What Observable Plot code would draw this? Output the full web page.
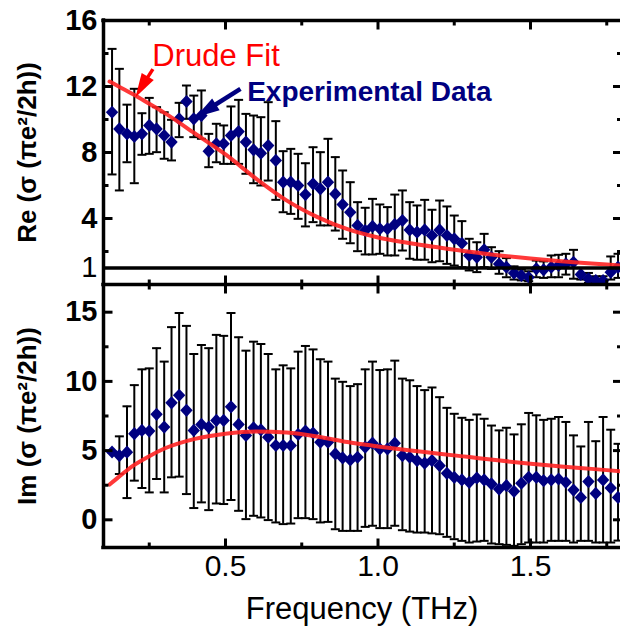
<!DOCTYPE html>
<html><head><meta charset="utf-8">
<script src="https://cdn.jsdelivr.net/npm/d3@7"></script>
<script src="https://cdn.jsdelivr.net/npm/@observablehq/plot@0.6"></script>
<style>
html,body{margin:0;padding:0;background:#fff;}
#chart{width:620px;height:639px;overflow:hidden;}
#chart svg{display:block;}
</style></head><body><div id="chart"></div>
<script>
// ---- data ----
const freq = [0.128,0.152,0.177,0.201,0.226,0.250,0.274,0.299,0.323,0.348,0.372,0.396,0.421,0.445,0.470,0.494,0.518,0.543,0.567,0.592,0.616,0.640,0.665,0.689,0.714,0.738,0.762,0.787,0.811,0.836,0.860,0.884,0.909,0.933,0.958,0.982,1.006,1.031,1.055,1.080,1.104,1.128,1.153,1.177,1.202,1.226,1.250,1.275,1.299,1.324,1.348,1.372,1.397,1.421,1.446,1.470,1.494,1.519,1.543,1.568,1.592,1.616,1.641,1.665,1.690,1.714,1.738,1.763,1.787];
const reValue = [10.44,9.43,9.13,8.97,9.13,9.64,9.43,9.03,8.63,10.04,
11.09,10.04,10.24,8.08,8.53,8.53,9.03,9.27,8.63,8.16,
7.96,8.42,7.52,6.2,6.2,6.0,5.45,6.1,5.8,6.2,
5.49,4.85,4.38,3.58,3.27,3.52,3.38,3.38,3.64,3.88,
3.31,3.17,3.31,2.97,3.31,2.97,2.77,2.5,1.76,1.65,
2.1,1.65,1.25,1.05,0.69,0.55,0.44,0.95,0.89,1.05,
1.15,1.25,1.35,0.61,0.35,0.24,0.24,0.75,1.05];
const reLow = [6.67,5.70,7.41,6.14,7.86,7.92,8.02,7.62,7.52,8.93,
10.04,8.93,8.83,7.11,7.41,7.31,7.31,7.31,6.71,6.14,
6.0,6.3,5.13,4.38,4.28,3.98,3.52,3.78,3.58,3.58,
3.27,2.77,2.5,2.02,1.82,1.82,1.86,1.76,1.76,2.06,
1.56,1.5,1.5,1.35,1.41,1.25,1.15,1.05,0.85,0.75,
1.05,0.95,0.65,0.44,0.3,0.25,0.2,0.44,0.4,0.44,
0.44,0.6,0.35,0.3,0.1,0.05,0.05,0.3,0.4];
const reHigh = [14.28,13.07,10.9,11.86,10.38,11.31,10.75,10.44,9.98,11.01,
12.06,11.45,11.76,9.13,9.74,9.64,10.79,11.19,10.34,10.24,
10.14,11.05,9.9,8.08,8.22,7.92,7.35,8.32,8.02,8.83,
7.72,6.91,6.2,4.99,4.65,5.19,4.85,4.69,5.45,5.7,
4.99,4.79,5.13,4.53,5.09,4.73,4.18,3.84,2.77,2.56,
3.07,2.26,2.02,1.6,1.1,0.9,0.8,1.45,1.4,1.76,
1.8,1.86,2.1,1.0,0.7,0.5,0.5,1.7,1.86];
const imValue = [4.9,4.64,4.89,6.22,6.46,6.41,7.62,6.7,8.45,9.0,
7.91,6.46,6.89,6.7,7.18,7.18,8.16,6.89,6.1,6.65,
6.5,5.97,5.37,5.37,5.37,6.17,6.41,6.27,5.61,5.61,
4.76,4.47,4.33,4.52,5.25,5.54,5.12,5.12,5.54,4.64,
4.52,4.28,4.09,4.28,3.91,3.36,3.07,2.88,2.71,3.02,
2.88,2.59,2.22,2.47,2.06,2.64,3.07,3.07,2.83,2.88,
2.95,2.71,2.15,1.62,2.76,1.91,2.88,2.3,1.62];
const imLow = [4.85,3.31,1.57,2.83,2.3,1.98,2.95,1.98,3.07,3.12,
1.86,0.85,1.26,0.7,1.18,1.14,1.43,0.65,0.05,0.29,
0.17,-0.02,-0.19,-0.31,-0.27,0.12,0.12,0.05,-0.19,-0.15,
-0.68,-0.8,-0.8,-0.8,-0.51,-0.43,-0.6,-0.6,-0.43,-0.75,
-0.85,-0.92,-0.92,-0.98,-1.04,-1.23,-1.4,-1.52,-1.64,-1.57,
-1.52,-1.71,-1.76,-1.81,-1.88,-1.76,-1.64,-1.64,-1.64,-1.52,
-1.52,-1.52,-1.64,-1.52,-1.52,-1.64,-1.64,-1.64,-1.5];
const imHigh = [4.95,6.03,8.2,9.73,10.87,10.94,12.4,11.43,13.92,14.94,
14.01,11.98,12.63,12.4,13.36,13.29,14.94,13.19,12.22,12.87,
12.7,11.98,10.87,11.16,10.94,12.15,12.56,12.31,11.6,11.43,
10.2,9.97,9.66,9.8,10.87,11.43,10.82,10.87,11.5,10.2,
10.08,9.66,9.37,9.56,8.86,8.09,7.66,7.37,7.22,7.61,
7.3,6.81,6.46,6.65,6.17,6.9,7.72,7.55,7.22,7.3,
7.43,7.07,6.1,5.3,7.07,5.68,7.43,6.51,5.49];
// Drude fit curves
const fitFreq = [0.12,0.15,0.2,0.25,0.3,0.4,0.5,0.6,0.7,0.8,0.9,1.0,1.1,1.2,1.3,1.4,1.5,1.6,1.7,1.8];
const reFit   = [12.3,12.0,11.5,10.95,10.4,9.15,7.88,6.42,5.1,4.1,3.35,2.85,2.52,2.24,1.98,1.76,1.57,1.41,1.28,1.15];
const imFit   = [2.55,3.1,3.95,4.6,5.15,5.85,6.22,6.38,6.3,6.02,5.62,5.3,5.02,4.78,4.53,4.28,4.05,3.86,3.68,3.5];
// tick values / labels
const xMajor = [0.5, 1.0, 1.5];
const xMinor = [0.25, 0.75, 1.25, 1.75];
const reMajor = [4, 8, 12, 16];
const reMinor = [2, 6, 10, 14];
const reExtra = [1];
const imMajor = [0, 5, 10, 15];
const imMinor = [2.5, 7.5, 12.5];
const xTitle = "Frequency (THz)";
const reTitle = "Re (σ (πe²/2h))";
const imTitle = "Im (σ (πe²/2h))";
const fitLabel = "Drude Fit";
const dataLabel = "Experimental Data";
// annotation anchors (data coordinates)
const fitNote  = {x: 0.26,  y: 13.83, tailX: 0.262, tailY: 13.05, neckX: 0.2246, neckY: 11.98, tipX: 0.205, tipY: 11.35};
const dataNote = {x: 0.571, y: 11.65, tailX: 0.549, tailY: 11.86, neckX: 0.435,  neckY: 10.53, tipX: 0.402, tipY: 10.14};

// ---- records ----
const reData = freq.map((f, i) => ({f, v: reValue[i], lo: reLow[i], hi: reHigh[i]}));
const imData = freq.map((f, i) => ({f, v: imValue[i], lo: imLow[i], hi: imHigh[i]}));
const fitData = fitFreq.map((f, i) => ({f, re: reFit[i], im: imFit[i]}));

// ---- styles ----
const NAVY = "#000080", RED = "#ff0000", FIT = "#ff2424";
const FONT = "'Liberation Sans', Arial, Helvetica, sans-serif";
const sym = fn => ({draw: fn});
const diamond = sym(c => {c.moveTo(0,-6.6); c.lineTo(6.2,0); c.lineTo(0,6.6); c.lineTo(-6.2,0); c.closePath();});
const cap = sym(c => {c.moveTo(-4.5,0); c.lineTo(4.5,0);});
const seg = (dx, dy) => sym(c => {c.moveTo(0,0); c.lineTo(dx,dy);});
const head = sym(c => {c.moveTo(0,0); c.lineTo(-7,24); c.lineTo(7,24); c.closePath();});
const XD = [0.1, 1.8], XR = [103, 621.5];

function ticks(yMajor, yMinor, yTop, yBot) {
  const k = {stroke: "black", strokeWidth: 3, fill: "none"};
  return [
    Plot.dot(yMajor, {x: () => XD[0], y: d => d, symbol: seg(9, 0), ...k}),
    Plot.dot(yMinor, {x: () => XD[0], y: d => d, symbol: seg(5, 0), ...k}),
    Plot.dot(yMajor, {x: () => XD[1], y: d => d, symbol: seg(-9, 0), ...k}),
    Plot.dot(yMinor, {x: () => XD[1], y: d => d, symbol: seg(-5, 0), ...k}),
    Plot.dot(xMajor, {x: d => d, y: () => yTop, symbol: seg(0, 9), ...k}),
    Plot.dot(xMinor, {x: d => d, y: () => yTop, symbol: seg(0, 5), ...k}),
    Plot.dot(xMajor, {x: d => d, y: () => yBot, symbol: seg(0, -9), ...k}),
    Plot.dot(xMinor, {x: d => d, y: () => yBot, symbol: seg(0, -5), ...k})
  ];
}
function frame(yTop, yBot) {
  const k = {stroke: "black", strokeWidth: 3.5, strokeLinecap: "square"};
  return [Plot.ruleX([XD[0]], k), Plot.ruleY([yTop], k), Plot.ruleY([yBot], k)];
}
function series(data) {
  return [
    Plot.ruleX(data, {x: "f", y1: "lo", y2: "hi", stroke: "black", strokeWidth: 2}),
    Plot.dot(data, {x: "f", y: "lo", symbol: cap, stroke: "black", strokeWidth: 2, fill: "none"}),
    Plot.dot(data, {x: "f", y: "hi", symbol: cap, stroke: "black", strokeWidth: 2, fill: "none"}),
    Plot.dot(data, {x: "f", y: "v", symbol: diamond, fill: NAVY, stroke: "none"})
  ];
}
const yLabelAxis = (t, w) => Plot.axisY({ticks: t, tickSize: 0, tickPadding: 6, tickFormat: d => String(d), label: null, fontSize: 29, fontWeight: w});

const topChart = Plot.plot({
  width: 620, height: 284,
  marginLeft: 103, marginRight: 0, marginTop: 20, marginBottom: 0,
  style: {fontFamily: FONT, background: "white", color: "black"},
  x: {domain: XD, range: XR, axis: null},
  y: {domain: [0, 16]},
  marks: [
    ...series(reData),
    Plot.line(fitData, {x: "f", y: "re", stroke: FIT, strokeWidth: 4, strokeOpacity: 0.9, curve: "monotone-x"}),
    Plot.ruleY(reExtra, {stroke: "black", strokeWidth: 3.5}),
    ...frame(16, 0),
    ...ticks(reMajor, reMinor, 16, 0),
    yLabelAxis(reMajor, "bold"),
    yLabelAxis(reExtra, "normal"),
    Plot.text([reTitle], {text: d => d, frameAnchor: "left", dx: -76, rotate: -90, fontSize: 26, fontWeight: "bold", textAnchor: "middle"}),
    // annotations
    Plot.text([fitLabel], {text: d => d, x: () => fitNote.x, y: () => fitNote.y, textAnchor: "start", fill: RED, fontSize: 31}),
    Plot.link([fitNote], {x1: "tailX", y1: "tailY", x2: "neckX", y2: "neckY", stroke: RED, strokeWidth: 3.5}),
    Plot.dot([fitNote], {x: "tipX", y: "tipY", symbol: head, fill: RED, stroke: "none", rotate: 210.5}),
    Plot.text([dataLabel], {text: d => d, x: () => dataNote.x, y: () => dataNote.y, textAnchor: "start", fill: NAVY, fontSize: 28, fontWeight: "bold"}),
    Plot.link([dataNote], {x1: "tailX", y1: "tailY", x2: "neckX", y2: "neckY", stroke: NAVY, strokeWidth: 4.5}),
    Plot.dot([dataNote], {x: "tipX", y: "tipY", symbol: head, fill: NAVY, stroke: "none", rotate: 237.7})
  ]
});

const bottomChart = Plot.plot({
  width: 620, height: 355,
  marginLeft: 103, marginRight: 0, marginTop: 0, marginBottom: 92,
  style: {fontFamily: FONT, background: "white", color: "black"},
  x: {domain: XD, range: XR},
  y: {domain: [-2, 17]},
  marks: [
    ...series(imData),
    Plot.line(fitData, {x: "f", y: "im", stroke: FIT, strokeWidth: 4, strokeOpacity: 0.9, curve: "monotone-x"}),
    ...frame(17, -2),
    ...ticks(imMajor, imMinor, 17, -2),
    yLabelAxis(imMajor, "bold"),
    Plot.axisX({ticks: xMajor, tickSize: 0, tickPadding: 7, tickFormat: d3.format(".1f"), label: null, fontSize: 30}),
    Plot.text([imTitle], {text: d => d, frameAnchor: "left", dx: -76, rotate: -90, fontSize: 26, fontWeight: "bold", textAnchor: "middle"}),
    Plot.text([xTitle], {text: d => d, frameAnchor: "bottom", dy: 71, fontSize: 31})
  ]
});

document.getElementById("chart").append(topChart, bottomChart);
</script>
</body></html>
